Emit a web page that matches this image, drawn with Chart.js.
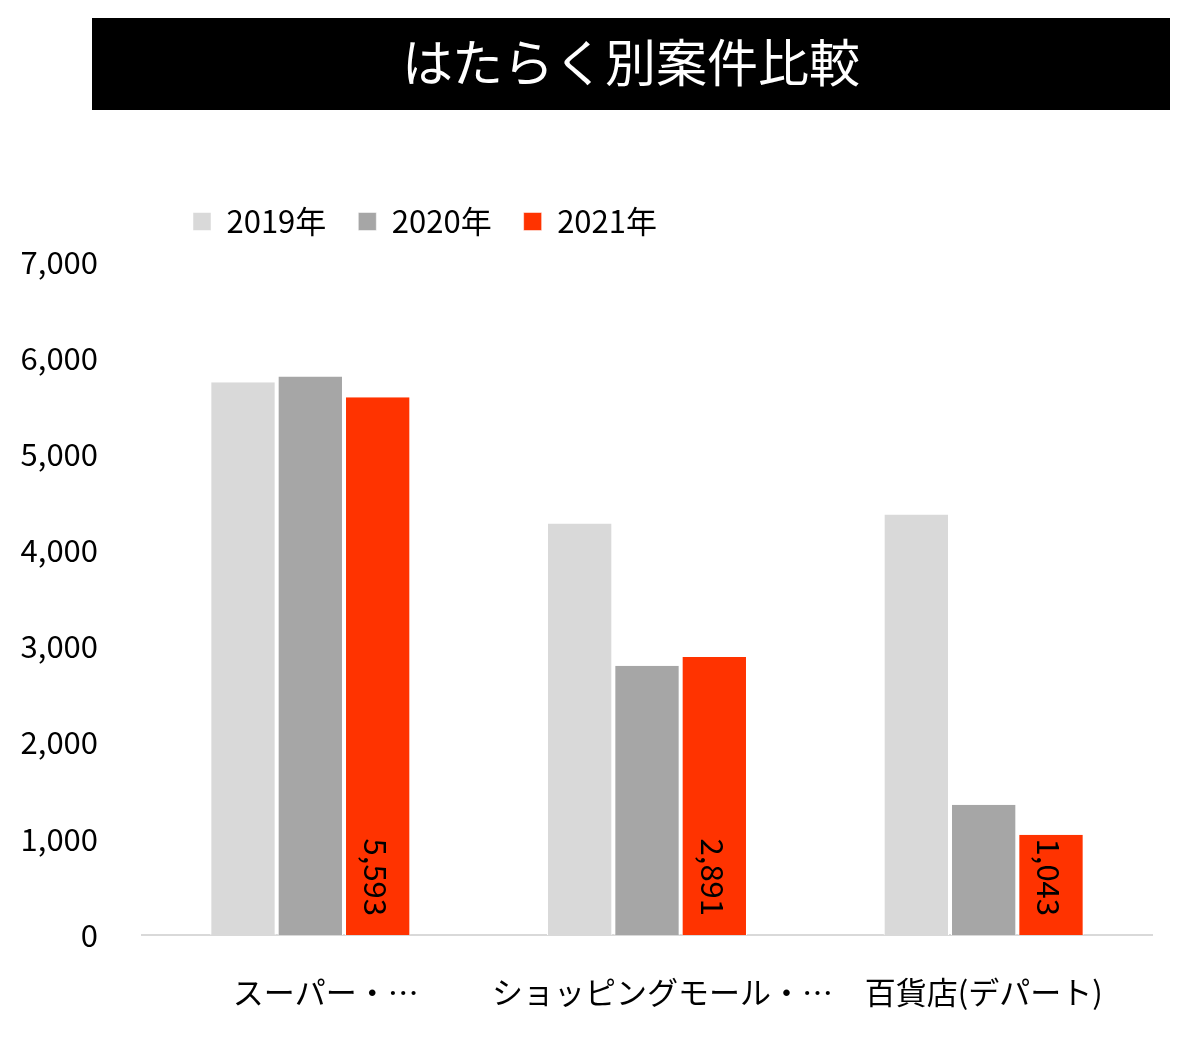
<!DOCTYPE html>
<html>
<head>
<meta charset="utf-8">
<script src="https://cdn.jsdelivr.net/npm/chart.js@4/dist/chart.umd.min.js"></script>
<style>
    html, body { margin: 0; padding: 0; background: #fff; }
    #wrap { position: relative; width: 1200px; height: 1048px; }
    #title {
        position: absolute; left: 92px; top: 18px; width: 1078px; height: 92px;
        background: #000; color: #fff; text-align: center; line-height: 84px;
        font-family: "Noto Sans CJK JP", sans-serif; font-size: 51px;
    }
    #chart { position: absolute; left: 0; top: 0; }
</style>
</head>
<body>
<div id="wrap">
    <canvas id="chart" width="1200" height="1048"></canvas>
    <div id="title">はたらく別案件比較</div>
</div>
<script>
// データ
const categories = ['スーパー・…', 'ショッピングモール・…', '百貨店(デパート)'];
const seriesNames = ['2019年', '2020年', '2021年'];
const values2019 = [5750, 4280, 4375];
const values2020 = [5810, 2800, 1355];
const values2021 = [5593, 2891, 1043];
const yTicks = [0, 1000, 2000, 3000, 4000, 5000, 6000, 7000];

const FONT = '"Noto Sans CJK JP", sans-serif';
const colors = ['#d9d9d9', '#a6a6a6', '#ff3300'];

// 2021年の棒だけ縦書きラベル
const barLabelPlugin = {
    id: 'barLabel',
    afterDatasetsDraw(chart) {
        const ctx = chart.ctx;
        const meta = chart.getDatasetMeta(2);
        const base = chart.scales.y.getPixelForValue(0);
        ctx.save();
        ctx.font = '31px ' + FONT;
        ctx.fillStyle = '#000';
        ctx.textAlign = 'right';
        ctx.textBaseline = 'middle';
        meta.data.forEach((bar, i) => {
            ctx.save();
            ctx.translate(bar.x - 2, base - 19);
            ctx.rotate(Math.PI / 2);
            ctx.fillText(values2021[i].toLocaleString('en-US'), 0, 0);
            ctx.restore();
        });
        ctx.restore();
    }
};

// 凡例の位置調整
const legendShift = {
    id: 'legendShift',
    afterLayout(chart) {
        const lg = chart.legend;
        lg.left += 19;
        lg.right += 19;
        lg.top -= 15;
        lg.bottom -= 15;
    }
};

const datasets = [values2019, values2020, values2021].map((d, i) => ({
    label: seriesNames[i],
    data: d,
    backgroundColor: colors[i],
    borderColor: '#ffffff',
    borderWidth: { left: 1, right: 1, top: 0, bottom: 0 },
    categoryPercentage: 0.6,
    barPercentage: 0.97
}));

new Chart(document.getElementById('chart').getContext('2d'), {
    type: 'bar',
    data: { labels: categories, datasets: datasets },
    options: {
        responsive: false,
        animation: false,
        layout: { padding: { left: 20, right: 48, top: 189, bottom: 33 } },
        plugins: {
            legend: {
                position: 'top',
                align: 'start',
                fullSize: false,
                labels: {
                    color: '#000',
                    font: { family: FONT, size: 31 },
                    boxWidth: 18,
                    boxHeight: 18,
                    padding: 32,
                    useBorderRadius: false
                }
            },
            tooltip: { enabled: false }
        },
        scales: {
            x: {
                grid: { display: false, drawTicks: false },
                border: { display: true, color: '#d9d9d9', width: 2 },
                ticks: {
                    color: '#000',
                    font: { family: FONT, size: 31 },
                    padding: 39,
                    maxRotation: 0,
                    autoSkip: false,
                    // 省略された見出しは少し右寄せ
                    callback: (v, i) => (i < 2 ? '\u3000' : '') + categories[i]
                },
                afterFit(scale) { scale.height = 80; }
            },
            y: {
                min: 0,
                max: 7000,
                afterBuildTicks(scale) {
                    scale.ticks = yTicks.map(v => ({ value: v }));
                },
                grid: { display: false, drawTicks: false },
                border: { display: false },
                ticks: {
                    color: '#000',
                    font: { family: FONT, size: 31 },
                    padding: 44,
                    callback: v => v.toLocaleString('en-US')
                },
                afterFit(scale) { scale.width = 122; }
            }
        }
    },
    plugins: [barLabelPlugin, legendShift]
});
</script>
</body>
</html>
